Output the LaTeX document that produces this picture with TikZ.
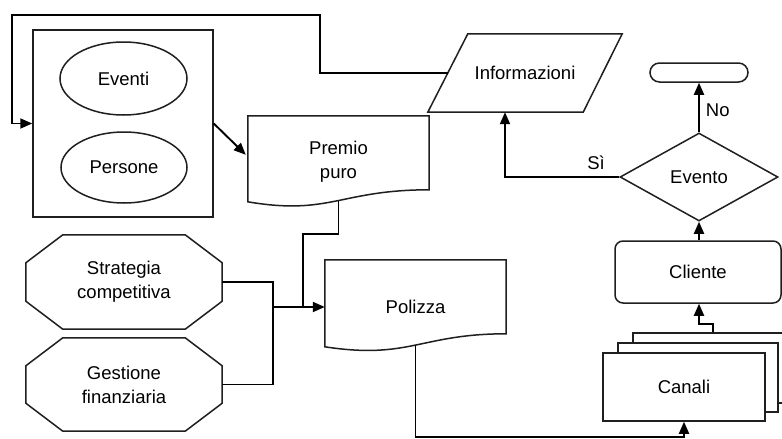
\documentclass[tikz,border=0pt]{standalone}
\usepackage{fontspec}
\setmainfont{Liberation Sans}
\usetikzlibrary{shapes.geometric,arrows.meta,calc}
% octagon drawn around a named node, chamfer sizes #2 (across) and #3 (down)
\newcommand{\drawoctagon}[3]{%
  \draw[outline] ($(#1.north west)+(#2,0)$) -- ($(#1.north east)+(-#2,0)$)
    -- ($(#1.north east)+(0,#3)$) -- ($(#1.south east)+(0,-#3)$)
    -- ($(#1.south east)+(-#2,0)$) -- ($(#1.south west)+(#2,0)$)
    -- ($(#1.south west)+(0,-#3)$) -- ($(#1.north west)+(0,#3)$) -- cycle;}
\begin{document}
\begin{tikzpicture}[x=1pt,y=-1pt,
  outline/.style={draw=black!88, line width=1.5pt},
  wire/.style={draw=black, line width=1.9pt},
  conn/.style={wire, -{Triangle[length=12pt,width=10pt]}},
  every node/.style={font=\fontsize{18.5}{24}\selectfont, inner sep=0pt, text=black},
]
\clip (0,0) rectangle (782,439);
\fill[white] (0,0) rectangle (782,439);

% context box with events and people
\node[outline, rectangle, minimum width=180, minimum height=187] (ctx) at (123,123.5) {};
\node[outline, ellipse, minimum width=127, minimum height=73] (eventi) at (123.5,78.5) {Eventi};
\node[outline, ellipse, minimum width=126, minimum height=71] (persone) at (124,167.5) {Persone};

% document: premio puro
\node[minimum width=181, minimum height=92] (premio) at (338.5,162) {};
\draw[outline, fill=white] (premio.north west) -- (premio.north east) -- ++(0,74)
  .. controls +(-89,0) and +(82,14) .. ($(premio.north west)+(0,86)$) -- cycle;
\node[align=center] (premiotext) at (premio) {Premio\\puro};

% document: polizza
\node[minimum width=181, minimum height=93] (polizza) at (415.5,306.5) {};
\draw[outline, fill=white] (polizza.north west) -- (polizza.north east) -- ++(0,74)
  .. controls +(-86,0) and +(85,13) .. ($(polizza.north west)+(0,87)$) -- cycle;
\node (poltext) at (polizza) {Polizza};

% data: informazioni (parallelogram leaning right)
\node[minimum width=194, minimum height=78] (info) at (525,73) {Informazioni};
\draw[outline] ($(info.north west)+(40,0)$) -- (info.north east)
  -- ($(info.south east)+(-39,0)$) -- (info.south west) -- cycle;
\coordinate (infoW) at ($(info.west)+(20,0)$);
\coordinate (infoS) at ($(info.south)+(-20,0)$);

% strategies
\node[minimum width=196, minimum height=94, align=center] (strat) at (124,282) {Strategia\\competitiva};
\drawoctagon{strat}{37}{28}
\node[minimum width=196, minimum height=93, align=center] (gest) at (124,384.5) {Gestione\\finanziaria};
\drawoctagon{gest}{37}{28}

% decision, terminal, client
\node[outline, diamond, aspect=1.8, minimum width=158, minimum height=88] (evento) at (699,177) {Evento};
\node[outline, rectangle, rounded corners=9.5, minimum width=98, minimum height=19] (term) at (699,72.5) {};
\node[outline, rectangle, rounded corners=8, minimum width=166, minimum height=62] (cliente) at (698,272) {Cliente};

% stacked channels
\node[outline, rectangle, fill=white, minimum width=160, minimum height=70] (canali3) at (713,368) {};
\node[outline, rectangle, fill=white, minimum width=160, minimum height=69] (canali2) at (698,377.5) {};
\node[outline, rectangle, fill=white, minimum width=162, minimum height=68] (canali) at (684,387) {Canali};

% feedback loop from informazioni to the context box
\coordinate (fb1) at (320,15);
\coordinate (fb2) at (12,15);
\draw[conn] (infoW) -| (fb1) -- (fb2) |- (ctx.west);

% context to premio
\draw[conn] (ctx.east) -- ($(premio.north west)+(-2,39)$);

% premio and strategies into polizza
\coordinate (jp) at (303,307);
\coordinate (jn) at (273,307);
\draw[wire] ($(premio.south)+(0,-7)$) -- ++(0,33) -| (jp);
\draw[wire] (strat.east) -| (jn);
\draw[wire] (gest.east) -| (jn);
\draw[conn] (jn) -- (polizza.west |- jn);

% polizza to canali
\draw[conn] ($(polizza.south)+(0,-8)$) |- ($(canali.south)+(0,15)$) -- (canali.south);

% canali to cliente
\draw[conn] (canali3.north) -- ++(0,-8) -| (cliente.south -| evento.south);

% cliente to evento
\draw[conn] (cliente.north -| evento.south) -- (evento.south);

% evento outcomes
\draw[conn] (evento.north) -- node[right=6pt, pos=0.45] {No} (term.south);
\draw[conn] (evento.west) -| (infoS);
\node (si) at (596,163) {Sì};

\end{tikzpicture}
\end{document}
